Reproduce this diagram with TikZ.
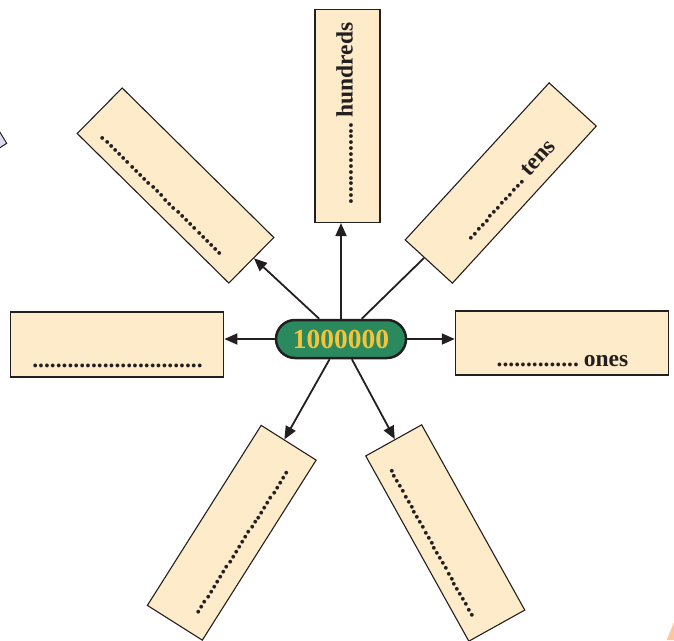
\documentclass[tikz,border=0pt]{standalone}
\usepackage{fontspec}
\setmainfont{Liberation Serif}
\usetikzlibrary{shapes.misc,arrows.meta,calc,backgrounds}
\definecolor{boxfill}{HTML}{FEEBC9}
\definecolor{pillgreen}{HTML}{2A8A5E}
\definecolor{pilltext}{HTML}{F7C33A}
\definecolor{ink}{HTML}{231F20}
\definecolor{lav}{HTML}{DCDCF0}
\definecolor{peach}{HTML}{FCC79C}
\begin{document}
\begin{tikzpicture}[x=1pt,y=1pt,
  boxstyle/.style={draw=ink,line width=1.1pt,fill=boxfill,minimum width=213pt,minimum height=64pt,inner sep=0pt},
  lbl/.style={font=\fontsize{23.5}{26}\selectfont\bfseries,text=ink,anchor=base,inner sep=0pt},
  conn/.style={draw=ink,line width=1.8pt},
  arr/.style={conn,-{Triangle[length=13pt,width=11pt]}},
  pillstyle/.style={rounded rectangle,draw=ink,line width=2.5pt,fill=pillgreen,minimum width=130pt,minimum height=38pt,inner sep=0pt,text=pilltext,font=\fontsize{27.5}{30}\selectfont\bfseries}]
\useasboundingbox (0,0) rectangle (674,-640);

% partial shapes at the edges
\draw[draw=ink,line width=1pt,fill=lav] (-2,-129) -- (6.7,-143.3) -- (-2,-149);
\fill[peach] (666.7,-640) -- (674,-622) -- (674,-640) -- cycle;

% boxes
\node[boxstyle,minimum width=65pt,minimum height=213pt] (top) at (347.5,-116) {};
\node[boxstyle,rotate=47.5] (tens) at (500.75,-183) {};
\node[boxstyle,rotate=-44.6] (tl) at (175.5,-185.5) {};
\node[boxstyle,minimum height=65pt] (left) at (117.3,-344.5) {};
\node[boxstyle] (right) at (561.8,-343) {};
\node[boxstyle,rotate=57.7,minimum height=65pt] (bl) at (231.75,-532.75) {};
\node[boxstyle,rotate=-60.9,minimum width=212pt] (br) at (445.25,-533) {};

% labels
\node[lbl,rotate=90] (topt) at (352.5,-113.5) {..............\hspace{5pt}hundreds};
\node[lbl,rotate=47.5] (tenst) at ($(tens.center)+(-42.5:17)$) {..............\hspace{5pt}tens};
\node[lbl,rotate=-44.6] (tlt) at ($(tl.center)+(-134.6:18.7)+(135.4:2.6)$) {.............................};
\node[lbl] (leftt) at (117.5,-367.5) {.............................};
\node[lbl] (rightt) at (562.5,-366) {..............\hspace{5pt}ones};
\node[lbl,rotate=57.7] (blt) at ($(bl.center)+(-32.3:16.2)+(237.7:2.3)$) {.............................};
\node[lbl,rotate=-60.9] (brt) at ($(br.center)+(-150.9:18.2)+(-60.9:2.3)$) {.............................};

% centre
\node[pillstyle] (pill) at (341,-339) {1000000};

% connectors
\begin{scope}[on background layer]
\draw[arr] (pill.north) -- (pill.north |- top.south);
\draw[conn] (pill) -- (tens);
\draw[arr] (pill) -- (tl);
\draw[arr] (pill.west) -- (pill.west -| left.east);
\draw[arr] (pill.east) -- (pill.east -| right.west);
\draw[arr] (pill) -- (bl);
\draw[arr] (pill) -- (br);
\end{scope}
\end{tikzpicture}
\end{document}
